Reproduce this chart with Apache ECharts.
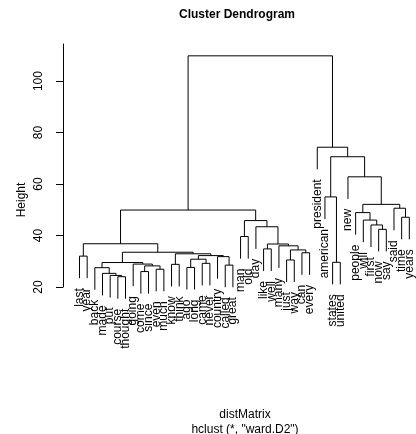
<!DOCTYPE html>
<html>
<head>
<meta charset="utf-8">
<script src="https://cdn.jsdelivr.net/npm/echarts@6/dist/echarts.min.js"></script>
<style>
    html, body { margin: 0; padding: 0; background: #fff; }
    #chart { width: 416px; height: 434px; }
</style>
</head>
<body>
<div id="chart"></div>
<script>
// leaves in plotted order (left to right)
var leafLabels = ["last", "year", "back", "made", "put", "course", "thought", "going", "come", "since",
    "even", "much", "know", "think", "ago", "long", "came", "never", "country", "called",
    "great", "man", "old", "day", "like", "well", "many", "just", "way", "can",
    "every", "president", "american", "states", "united", "new", "people", "will", "first", "now",
    "say", "said", "time", "years"];

// hclust style merge matrix: negative = leaf position (1-based), positive = earlier merge row
var mergeLeft = [-6, -5, -4, -9, -11, -3, -15, 4, -20, -13,
    -8, -17, 6, -34, -28, 7, -19, -1, 16, 10,
    -30, 13, 15, -25, -27, 24, 18, -22, -40, -24,
    -39, 28, -38, -43, -37, 27, -42, 35, -33, -36,
    39, -32, 36];
var mergeRight = [-7, 1, 2, -10, -12, 3, -16, 5, -21, -14,
    8, -18, 11, -35, -29, 12, 9, -2, 17, 19,
    -31, 20, 21, -26, 23, 25, 22, -23, -41, 26,
    29, 30, 31, -44, 33, 32, 34, 37, 14, 38,
    40, 41, 42];
var mergeHeight = [24.0, 24.5, 25.3, 26.0, 26.9, 27.5, 27.6, 28.2, 28.5, 28.8,
    28.9, 29.2, 29.5, 29.6, 30.5, 30.8, 31.8, 32.0, 32.2, 32.9,
    33.3, 33.5, 34.4, 34.8, 36.0, 36.7, 36.8, 39.6, 42.4, 43.4,
    44.1, 45.8, 46.0, 47.1, 48.9, 49.9, 50.6, 52.1, 55.0, 62.8,
    70.6, 74.3, 109.8];

var yTicks = [20, 40, 60, 80, 100];
var axisTop = 114.4;
var hang = 0.1;

function buildDendrogram() {
    var hMin = Math.min.apply(null, mergeHeight);
    var hMax = Math.max.apply(null, mergeHeight);
    var drop = hang * (hMax - hMin);
    var nodeX = [];
    var links = [];
    var leaves = [];
    for (var k = 0; k < mergeLeft.length; k++) {
        var h = mergeHeight[k];
        var kids = [mergeLeft[k], mergeRight[k]];
        var xs = [], ys = [];
        for (var j = 0; j < 2; j++) {
            var c = kids[j];
            if (c < 0) {
                var i = -c - 1;
                xs.push(i);
                ys.push(h - drop);
                leaves.push([i, h - drop]);
            } else {
                xs.push(nodeX[c - 1]);
                ys.push(mergeHeight[c - 1]);
            }
        }
        nodeX[k] = (xs[0] + xs[1]) / 2;
        links.push([xs[0], ys[0], xs[1], ys[1], h]);
    }
    return {links: links, leaves: leaves};
}

var dend = buildDendrogram();
var font = "'Liberation Sans', Arial, sans-serif";

var chart = echarts.init(document.getElementById('chart'));

var option = {
    animation: false,
    backgroundColor: '#fff',
    title: [
        {
            text: 'Cluster Dendrogram',
            left: 232, top: 4, textAlign: 'center',
            textStyle: {fontSize: 12, fontWeight: 'bold', color: '#000', fontFamily: font}
        },
        {
            text: 'distMatrix',
            left: 240, top: 404, textAlign: 'center',
            textStyle: {fontSize: 12, fontWeight: 'normal', color: '#000', fontFamily: font}
        },
        {
            text: 'hclust (*, "ward.D2")',
            left: 240, top: 419, textAlign: 'center',
            textStyle: {fontSize: 12, fontWeight: 'normal', color: '#000', fontFamily: font}
        }
    ],
    graphic: [{
        type: 'text',
        x: 22, y: 200,
        rotation: Math.PI / 2,
        style: {text: 'Height', fill: '#000', font: '12px ' + font, align: 'center', verticalAlign: 'middle'}
    }],
    grid: {left: 63, right: 0, top: 44, bottom: 147, outerBoundsMode: 'none'},
    xAxis: {type: 'value', min: -2.15, max: 43.87, show: false},
    yAxis: {
        type: 'value',
        min: 20,
        max: axisTop,
        interval: 20,
        splitLine: {show: false},
        axisLine: {show: true, onZero: false, lineStyle: {color: '#000', width: 1}},
        axisTick: {show: true, length: 7, customValues: yTicks, lineStyle: {color: '#000'}},
        axisLabel: {rotate: 90, margin: 18, customValues: yTicks, color: '#000', fontSize: 12, fontFamily: font}
    },
    series: [
        {
            type: 'custom',
            clip: false,
            silent: true,
            encode: {x: [0, 2], y: [1, 3, 4]},
            data: dend.links,
            renderItem: function (params, api) {
                var a = api.coord([api.value(0), api.value(1)]);
                var b = api.coord([api.value(0), api.value(4)]);
                var c = api.coord([api.value(2), api.value(4)]);
                var d = api.coord([api.value(2), api.value(3)]);
                return {
                    type: 'polyline',
                    shape: {points: [a, b, c, d]},
                    style: {stroke: '#000', lineWidth: 1, fill: null}
                };
            }
        },
        {
            type: 'custom',
            clip: false,
            silent: true,
            encode: {x: 0, y: 1},
            data: dend.leaves,
            renderItem: function (params, api) {
                var p = api.coord([api.value(0), api.value(1)]);
                return {
                    type: 'text',
                    x: p[0], y: p[1] + 10,
                    rotation: Math.PI / 2,
                    style: {
                        text: leafLabels[api.value(0)],
                        fill: '#000',
                        font: '12px ' + font,
                        align: 'right',
                        verticalAlign: 'middle'
                    }
                };
            }
        }
    ]
};

chart.setOption(option);
</script>
</body>
</html>
